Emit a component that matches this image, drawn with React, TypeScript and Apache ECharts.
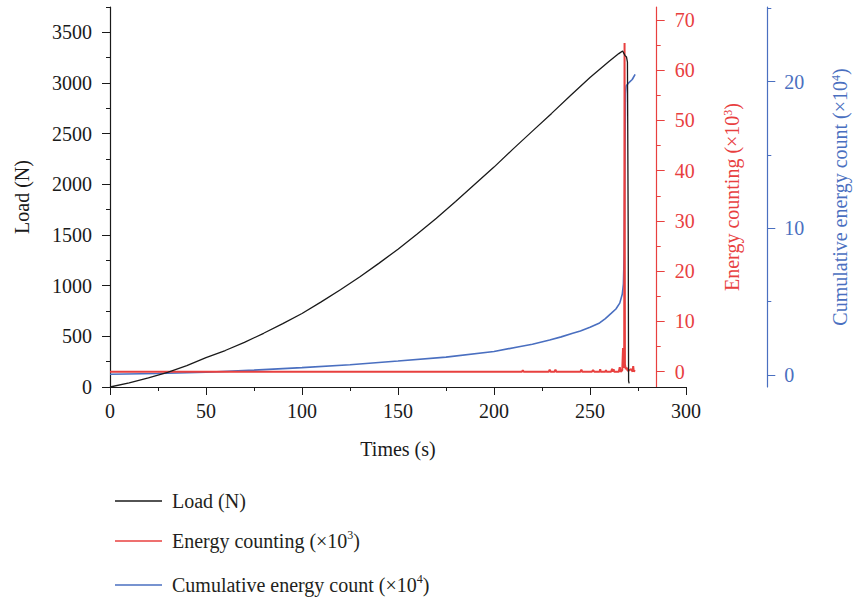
import React, { useEffect, useRef } from "react";
import * as echarts from "echarts";

// ---- data ----
const loadTime = [0, 10, 20, 30, 40, 50, 60, 70, 80, 90, 100, 110, 120, 130, 140, 150, 160, 170, 180, 190, 200, 210, 220, 230, 240, 250, 260, 265, 267.0, 268.2, 269.0, 269.5, 269.9, 270.1, 270.4];
const loadValue = [0, 40, 90, 145, 210, 290, 360, 440, 530, 625, 725, 840, 960, 1085, 1220, 1360, 1510, 1665, 1830, 2000, 2170, 2350, 2525, 2700, 2880, 3055, 3215, 3290, 3316, 3273, 3257, 3207, 1500, 60, 35];

const energyTime = [0, 214.5, 215, 215.5, 228.5, 229, 229.5, 231.5, 232, 232.5, 245, 245.5, 246, 251, 251.6, 252.2, 255, 255.3, 255.6, 258, 258.3, 258.6, 261, 261.5, 262, 262.3, 262.6, 263, 265, 265.5, 266, 266.8, 267.2, 267.5, 267.8, 268.0, 268.2, 268.6, 269.2, 269.6, 270.5, 271.5, 272.2, 272.5, 272.8, 273.4];
const energyValue = [0, 0, 0.3, 0, 0, 0.4, 0, 0, 0.4, 0, 0, 0.4, 0, 0, 0.3, 0, 0, 0.5, 0, 0, 0.3, 0, 0, 0.6, 0, 0.5, 0, 0, 0, 0.9, 0, 0.3, 4.7, 1.2, 0.8, 65.4, 1.5, 0.5, 0.8, 0.2, 0.3, 0.5, 0, 1.1, 0, 0.3];

const cumTime = [0, 25, 50, 75, 100, 125, 150, 175, 200, 213, 220, 229, 235, 241, 245, 250, 255, 258, 261, 263.5, 265.5, 266.8, 267.4, 267.8, 268.2, 268.5, 268.8, 270, 272, 273.5];
const cumValue = [0.05, 0.1, 0.19, 0.33, 0.5, 0.7, 0.95, 1.22, 1.6, 1.93, 2.1, 2.39, 2.6, 2.84, 3.0, 3.25, 3.55, 3.85, 4.2, 4.5, 4.9, 5.5, 6.2, 8.3, 15.1, 19.2, 19.7, 19.9, 20.15, 20.5];

const timeMin = 0;
const timeMax = 300;
const timeInterval = 50;
const loadAxisMax = 3750;
const loadTickMax = 4000;
const loadInterval = 500;
const energyTickMax = 70;
const energyInterval = 10;
const cumAxisMax = 25;
const cumTickMax = 30;
const cumInterval = 10;

const loadName = "Load (N)";
const energyName = "Energy counting (×10³)";
const cumName = "Cumulative energy count (×10⁴)";
const xName = "Times (s)";

const FONT = "'Liberation Serif', 'Times New Roman', serif";
const BLACK = "#1a1a1a";
const RED = "#e8403f";
const BLUE = "#4a6fc0";

const toRich = (s: string) => s.replace("³", "{sup|3}").replace("⁴", "{sup|4}");
const plain = (v: number) => String(v);

export default function App() {
  const ref = useRef<HTMLDivElement>(null);
  useEffect(() => {
    const chart = echarts.init(ref.current!, null, { renderer: "svg" });
    const zip = (t: number[], v: number[]) => t.map((x, i) => [x, v[i]]);
    const sup = (color: string) => ({
      sup: { fontSize: 12, lineHeight: 10, verticalAlign: "top", fontFamily: FONT, color },
    });

    const gl = 110, gr = 170;
    const bottomPx = 387; // y of time axis
    const topPx = 7;
    const H = 605;
    const loadPerUnit = (bottomPx - topPx) / loadAxisMax;
    const e0 = 371.7, e70 = 20;
    const ePer = (e0 - e70) / 70;
    const c0 = 375, c20 = 81.7;
    const cPer = (c0 - c20) / 20;

    const redOffset = 656.7 - (856 - gr);
    const blueOffset = 767.3 - (856 - gr);

    const gridBase = { left: gl, right: gr, outerBoundsMode: "none", containLabel: false };

    const hiddenX = (gi: number) => ({
      type: "value", gridIndex: gi, show: false, min: timeMin, max: timeMax,
      axisLine: { show: false, onZero: false }, splitLine: { show: false },
    });

    const tickAxis = (gi: number, pos: string, offset: number, max: number, interval: number, visibleMax: number, color: string, margin: number) => ({
      type: "value", gridIndex: gi, position: pos, offset, min: 0, max, interval,
      axisLine: { show: false, onZero: false },
      splitLine: { show: false },
      axisTick: { show: true, inside: false, length: 8, lineStyle: { color, width: 1 } },
      minorTick: { show: true, splitNumber: 2, length: 4, lineStyle: { color, width: 1 } },
      axisLabel: {
        fontSize: 20, color, margin, fontFamily: FONT,
        formatter: (v: number) => (v > visibleMax ? "" : String(v)),
      },
    });

    const option: any = {
      animation: false,
      textStyle: { fontFamily: FONT },
      grid: [
        { ...gridBase, top: topPx, bottom: H - bottomPx },
        { ...gridBase, top: bottomPx - loadTickMax * loadPerUnit, bottom: H - bottomPx },
        { ...gridBase, top: e0 - energyTickMax * ePer, bottom: H - e0 },
        { ...gridBase, top: c0 - cumTickMax * cPer, bottom: H - c0 },
      ],
      xAxis: [
        {
          type: "value", gridIndex: 0, min: timeMin, max: timeMax, interval: timeInterval,
          name: xName, nameLocation: "middle", nameGap: 52,
          nameTextStyle: { fontSize: 20, color: BLACK, fontFamily: FONT },
          axisLine: { show: true, onZero: false, lineStyle: { color: BLACK, width: 1.2 } },
          axisTick: { show: true, length: 8, lineStyle: { color: BLACK, width: 1 } },
          minorTick: { show: true, splitNumber: 2, length: 4, lineStyle: { color: BLACK, width: 1 } },
          axisLabel: { fontSize: 20, color: BLACK, margin: 14, fontFamily: FONT, formatter: plain },
          splitLine: { show: false },
        },
        hiddenX(1), hiddenX(2), hiddenX(3),
      ],
      yAxis: [
        {
          type: "value", gridIndex: 0, position: "left", min: 0, max: loadAxisMax,
          name: loadName, nameLocation: "middle", nameGap: 78, nameRotate: 90,
          nameTextStyle: { fontSize: 20, color: BLACK, fontFamily: FONT },
          axisLine: { show: true, onZero: false, lineStyle: { color: BLACK, width: 1.2 } },
          axisTick: { show: false }, axisLabel: { show: false }, splitLine: { show: false },
        },
        {
          type: "value", gridIndex: 0, position: "right", offset: redOffset,
          min: -(bottomPx - e0) / ePer, max: (e0 - topPx) / ePer,
          name: toRich(energyName), nameLocation: "middle", nameGap: 65, nameRotate: 90,
          nameTextStyle: { fontSize: 20, color: RED, fontFamily: FONT, rich: sup(RED) },
          axisLine: { show: true, onZero: false, lineStyle: { color: RED, width: 1.2 } },
          axisTick: { show: false }, axisLabel: { show: false }, splitLine: { show: false },
        },
        {
          type: "value", gridIndex: 0, position: "right", offset: blueOffset,
          min: -(bottomPx - c0) / cPer, max: (c0 - topPx) / cPer,
          name: toRich(cumName), nameLocation: "middle", nameGap: 63, nameRotate: 90,
          nameTextStyle: { fontSize: 20, color: BLUE, fontFamily: FONT, rich: sup(BLUE) },
          axisLine: { show: true, onZero: false, lineStyle: { color: BLUE, width: 1.2 } },
          axisTick: { show: false }, axisLabel: { show: false }, splitLine: { show: false },
        },
        tickAxis(1, "left", 0, loadTickMax, loadInterval, loadAxisMax, BLACK, 18),
        tickAxis(2, "right", redOffset, energyTickMax, energyInterval, energyTickMax, RED, 18),
        tickAxis(3, "right", blueOffset, cumTickMax, cumInterval, cumAxisMax, BLUE, 17),
      ],
      legend: [loadName, energyName, cumName].map((n, i) => ({
        data: [{ name: n, icon: "rect" }],
        orient: "vertical",
        left: 110,
        top: [496, 536, 580][i] - 12,
        itemWidth: 47,
        itemHeight: 1.3,
        selectedMode: false,
        formatter: (name: string) => toRich(name),
        textStyle: {
          fontSize: 20, color: "#231f20", fontFamily: FONT, lineHeight: 24,
          padding: [0, 0, 0, 5],
          rich: sup("#231f20"),
        },
      })),
      series: [
        {
          name: cumName, type: "line", xAxisIndex: 0, yAxisIndex: 2,
          data: zip(cumTime, cumValue), showSymbol: false, symbol: "none",
          lineStyle: { color: BLUE, width: 1.6 }, itemStyle: { color: BLUE }, z: 2,
        },
        {
          name: energyName, type: "line", xAxisIndex: 0, yAxisIndex: 1,
          data: zip(energyTime, energyValue), showSymbol: false, symbol: "none",
          lineStyle: { color: RED, width: 2 }, itemStyle: { color: RED }, z: 3,
        },
        {
          name: loadName, type: "line", xAxisIndex: 0, yAxisIndex: 0,
          data: zip(loadTime, loadValue), showSymbol: false, symbol: "none",
          lineStyle: { color: BLACK, width: 1.3 }, itemStyle: { color: BLACK }, z: 4,
        },
      ],
    };
    chart.setOption(option);
    return () => chart.dispose();
  }, []);
  return (
    <div
      ref={ref}
      style={{ position: "absolute", left: 0, top: 0, width: 856, height: 605, background: "#fff" }}
    />
  );
}
